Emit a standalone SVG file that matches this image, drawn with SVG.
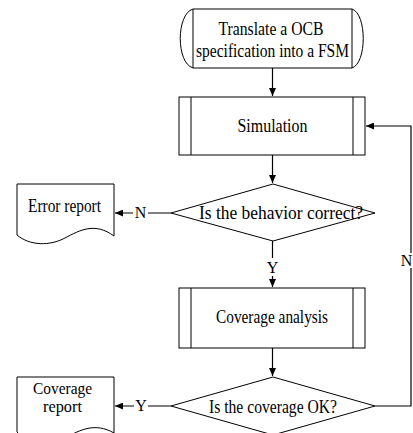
<svg xmlns="http://www.w3.org/2000/svg" width="413" height="433" viewBox="0 0 413 433">
<defs>
<marker id="arr" markerUnits="userSpaceOnUse" markerWidth="8" markerHeight="7" refX="8" refY="3.5" orient="auto">
<path d="M0,0 L8,3.5 L0,7 Z" fill="#000"/>
</marker>
<style>
.s{fill:#fff;stroke:#000;stroke-width:1}
.l{fill:none;stroke:#000;stroke-width:1}
.c{fill:none;stroke:#000;stroke-width:1.2}
text{font-family:"Liberation Serif","Times New Roman",serif;font-size:18px;fill:#000;text-anchor:middle}
.sm{font-size:16px}
</style>
</defs>
<rect width="413" height="433" fill="#fff"/>
<g id="connectors">
<path class="c" d="M272.5,68 V96" marker-end="url(#arr)"/>
<path class="c" d="M272.5,155 V183" marker-end="url(#arr)"/>
<path class="c" d="M171,213 H148 M133,213 H115" marker-end="url(#arr)"/>
<path class="c" d="M272.5,241 V258 M272.5,276 V287" marker-end="url(#arr)"/>
<path class="c" d="M272.5,348 V376" marker-end="url(#arr)"/>
<path class="c" d="M171,406 H148 M134,406 H115" marker-end="url(#arr)"/>
<path class="c" d="M375,406 H411 V268 M411,253 V126 H366" marker-end="url(#arr)"/>
<text class="sm" x="140.5" y="218">N</text>
<text class="sm" x="272.5" y="273">Y</text>
<text class="sm" x="141" y="411">Y</text>
<text class="sm" x="406.5" y="266">N</text>
</g>
<g id="start">
<path class="s" d="M193,9 H352 C367,14 367,63 352,68 H193 C176,63 176,14 193,9 Z"/>
<path class="l" d="M193,9 V68 M352,9 V68"/>
<text x="271" y="35" textLength="105" lengthAdjust="spacingAndGlyphs">Translate a OCB</text>
<text x="272.5" y="57" textLength="153" lengthAdjust="spacingAndGlyphs">specification into a FSM</text>
</g>
<g id="simulation">
<rect class="s" x="179" y="97" width="186" height="58"/>
<path class="l" d="M191,97 V155 M353,97 V155"/>
<text x="272.5" y="132" textLength="70" lengthAdjust="spacingAndGlyphs">Simulation</text>
</g>
<g id="decision1">
<polygon class="s" points="273,184 375,213 273,241 171,213"/>
<text x="281" y="219" textLength="164" lengthAdjust="spacingAndGlyphs">Is the behavior correct?</text>
</g>
<g id="error-report">
<path class="s" d="M17,184 H114 V236 C95,222 80,230 65,238 C50,246 30,246 17,235 Z"/>
<text x="64.5" y="212" textLength="73" lengthAdjust="spacingAndGlyphs">Error report</text>
</g>
<g id="coverage-analysis">
<rect class="s" x="179" y="288" width="186" height="60"/>
<path class="l" d="M191,288 V348 M353,288 V348"/>
<text x="272" y="323" textLength="112" lengthAdjust="spacingAndGlyphs">Coverage analysis</text>
</g>
<g id="decision2">
<polygon class="s" points="273,377 375,406 273,435 171,406"/>
<text x="273" y="413" textLength="128" lengthAdjust="spacingAndGlyphs">Is the coverage OK?</text>
</g>
<g id="coverage-report">
<path class="s" d="M17,377 H114 V433 C95,422 80,430 65,438 C50,446 30,446 17,432 Z"/>
<text class="sm" x="62.5" y="394" textLength="59" lengthAdjust="spacingAndGlyphs">Coverage</text>
<text class="sm" x="62.5" y="412" textLength="39" lengthAdjust="spacingAndGlyphs">report</text>
</g>
</svg>
